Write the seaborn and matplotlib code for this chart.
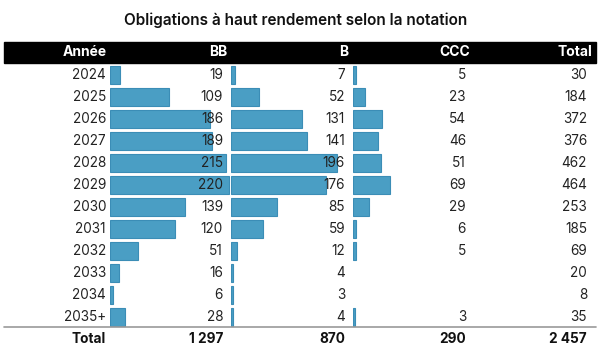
import numpy as np
import pandas as pd
import matplotlib
matplotlib.use("Agg")
import matplotlib.pyplot as plt
import seaborn as sns

sns.set_theme(style="white")
plt.rcParams['font.family'] = ['Inter', 'DejaVu Sans']

title = "Obligations à haut rendement selon la notation"
headers = ["Année", "BB", "B", "CCC", "Total"]
years = ["2024", "2025", "2026", "2027", "2028", "2029", "2030", "2031", "2032", "2033", "2034", "2035+"]
bb = [19, 109, 186, 189, 215, 220, 139, 120, 51, 16, 6, 28]
b = [7, 52, 131, 141, 196, 176, 85, 59, 12, 4, 3, 4]
ccc = [5, 23, 54, 46, 51, 69, 29, 6, 5, None, None, 3]
total = [30, 184, 372, 376, 462, 464, 253, 185, 69, 20, 8, 35]
totals_row = ["Total", "1 297", "870", "290", "2 457"]

W, H = 600, 351
fig = plt.figure(figsize=(W / 100, H / 100), dpi=100)

# background axes in pixel coordinates for table text
tax = fig.add_axes([0, 0, 1, 1])
tax.set_xlim(0, W)
tax.set_ylim(H, 0)
tax.axis("off")

bar_color = "#4a9ec4"
edge_color = "#3b8db6"
px_per_unit = 0.54
row_h = 22
row0 = 75
n = len(years)
top = row0 - row_h / 2
bottom = row0 + row_h * (n - 0.5)

bar_lefts = [110, 231, 353]
xmax = 230

df = pd.DataFrame({"year": years, "BB": bb, "B": b,
                   "CCC": [np.nan if v is None else v for v in ccc]})

for left, col in zip(bar_lefts, ["BB", "B", "CCC"]):
    ax = fig.add_axes([left / W, 1 - bottom / H, xmax * px_per_unit / W, (bottom - top) / H])
    sns.barplot(data=df, x=col, y="year", orient="h", ax=ax, color=bar_color,
                width=0.86, edgecolor=edge_color, linewidth=0.8, saturation=1)
    ax.set_xlim(0, xmax)
    ax.set_ylim(n - 0.5, -0.5)
    ax.axis("off")
    ax.patch.set_alpha(0)
    ax.set_zorder(1)

tax.set_zorder(2)
tax.patch.set_alpha(0)

# title
tax.text(296, 20, title, ha="center", va="center", fontsize=11, fontweight="semibold", color="#111111")

# header band
tax.add_patch(plt.Rectangle((4, 42), 592, 21, color="black", zorder=0))
hdr_x = [107, 227, 348, 470, 592]
for x, h in zip(hdr_x, headers):
    tax.text(x, 52.5, h, ha="right", va="center", fontsize=10, fontweight="bold", color="white")

col_x = [106, 223, 345, 466, 587]
fs = 9.8
for i in range(n):
    y = row0 + i * row_h
    vals = [years[i], bb[i], b[i], ccc[i], total[i]]
    for x, v in zip(col_x, vals):
        if v is None:
            continue
        tax.text(x, y, str(v), ha="right", va="center", fontsize=fs, color="#222222")

# separator
tax.plot([4, 596], [327, 327], color="#999999", lw=1.2)

for x, v in zip(col_x, totals_row):
    tax.text(x, 339, v, ha="right", va="center", fontsize=fs, fontweight="bold", color="#111111")

fig.savefig("out.png", dpi=100)
